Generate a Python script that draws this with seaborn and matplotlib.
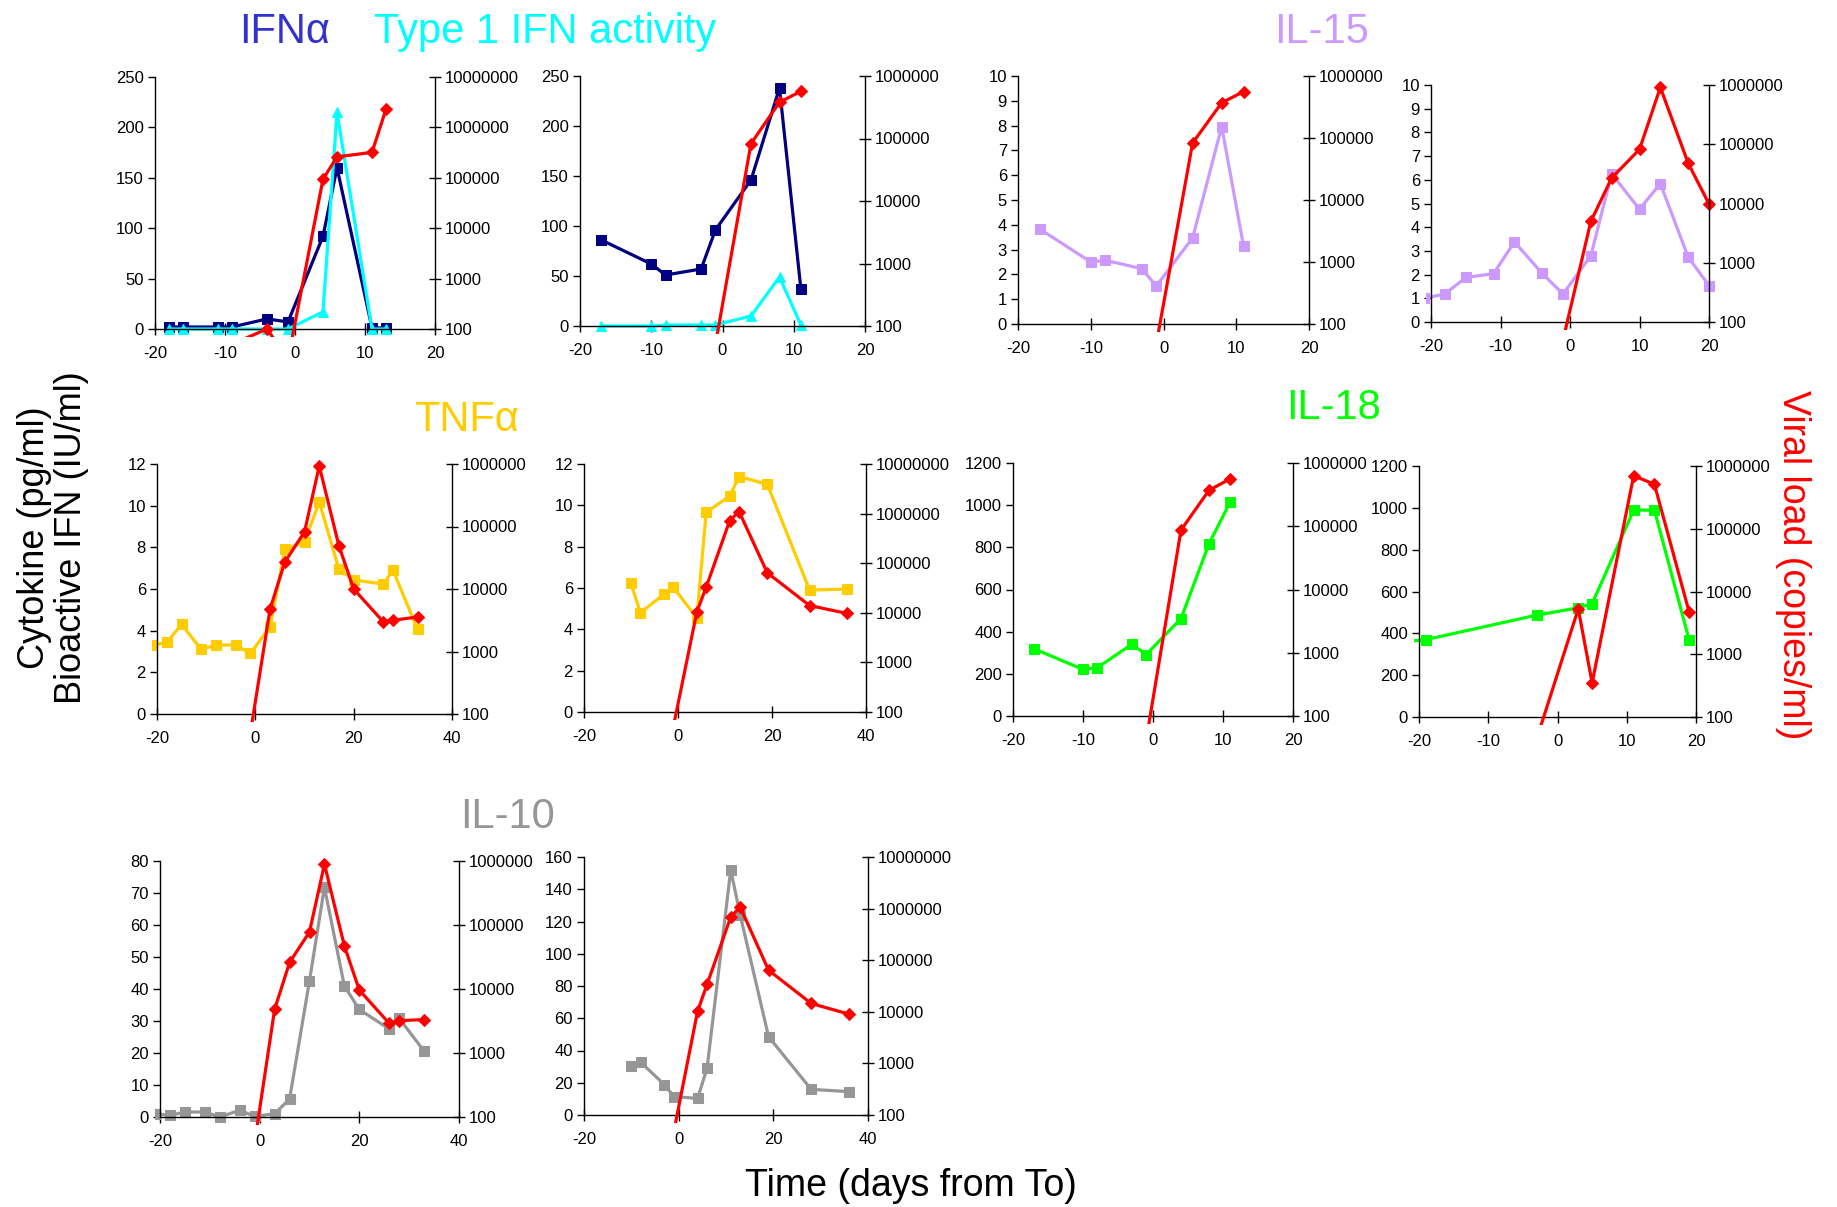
import matplotlib
matplotlib.use("Agg")
import matplotlib.pyplot as plt
from matplotlib.transforms import Bbox
import seaborn as sns

# ---------------- data ----------------
# Panel 1 : IFNa / Type 1 IFN activity, animal A
p1_days = [-18, -16, -11, -9, -4, -1, 4, 6, 11, 13]
p1_ifna = [2, 2, 2, 2, 10, 7, 92, 160, 1, 1]
p1_act = [0, 0, 0, 0, 0, 0, 17, 215, 0, 0]
p1_vl_days = [-9, -4, -1, 4, 6, 11, 13]
p1_vl = [50, 100, 25, 9.4e4, 2.6e5, 3.2e5, 2.3e6]

# Panel 2 : IFNa / Type 1 IFN activity, animal B
p2_days = [-17, -10, -8, -3, -1, 4, 8, 11]
p2_ifna = [86, 62, 51, 57, 96, 146, 238, 37]
p2_act = [0, 0, 1, 1, 1, 10, 49, 1]
p2_vl_days = [-1, 4, 8, 11]
p2_vl = [50, 8.3e4, 3.8e5, 5.7e5]

# Panel 3 : IL-15, animal B
p3_days = [-17, -10, -8, -3, -1, 4, 8, 11]
p3_il15 = [3.83, 2.5, 2.57, 2.23, 1.53, 3.47, 7.96, 3.15]
p3_vl_days = [-1, 4, 8, 11]
p3_vl = [47, 8.3e4, 3.7e5, 5.6e5]

# Panel 4 : IL-15, animal C
p4_days = [-21, -18, -15, -11, -8, -4, -1, 3, 6, 10, 13, 17, 20]
p4_il15 = [1.0, 1.18, 1.88, 2.04, 3.38, 2.05, 1.18, 2.8, 6.25, 4.76, 5.84, 2.74, 1.54]
p4_vl_days = [-1, 3, 6, 10, 13, 17, 20]
p4_vl = [50, 5000, 2.7e4, 8.2e4, 9.1e5, 4.8e4, 9800]

# Panel 5 : TNFa, animal C
p5_days = [-21, -18, -15, -11, -8, -4, -1, 3, 6, 10, 13, 17, 20, 26, 28, 33]
p5_tnf = [3.3, 3.44, 4.3, 3.1, 3.31, 3.31, 2.91, 4.19, 7.9, 8.26, 10.18, 6.94, 6.43, 6.24, 6.9, 4.06]
p5_vl_days = [-1, 3, 6, 10, 13, 17, 20, 26, 28, 33]
p5_vl = [50, 4800, 2.7e4, 8.2e4, 9.3e5, 4.9e4, 1.0e4, 3000, 3160, 3570]

# Panel 6 : TNFa, animal D
p6_days = [-10, -8, -3, -1, 4, 6, 11, 13, 19, 28, 36]
p6_tnf = [6.22, 4.8, 5.7, 6.03, 4.56, 9.66, 10.45, 11.39, 11.02, 5.9, 5.95]
p6_vl_days = [-1, 4, 6, 11, 13, 19, 28, 36]
p6_vl = [50, 1.03e4, 3.3e4, 7.2e5, 1.1e6, 6.4e4, 1.4e4, 9700]

# Panel 7 : IL-18, animal B
p7_days = [-17, -10, -8, -3, -1, 4, 8, 11]
p7_il18 = [319, 221, 228, 341, 291, 462, 817, 1013]
p7_vl_days = [-1, 4, 8, 11]
p7_vl = [40, 8.7e4, 3.7e5, 5.6e5]

# Panel 8 : IL-18, animal E
p8_days = [-22, -19, -3, 3, 5, 11, 14, 19]
p8_il18 = [360, 370, 487, 522, 542, 989, 989, 370]
p8_vl_days = [-3, 3, 5, 11, 14, 19]
p8_vl = [45, 5300, 350, 7.0e5, 5.1e5, 4750]

# Panel 9 : IL-10, animal C
p9_days = [-21, -18, -15, -11, -8, -4, -1, 3, 6, 10, 13, 17, 20, 26, 28, 33]
p9_il10 = [1.0, 0.5, 1.56, 1.56, 0, 2.1, 0.2, 1.0, 5.6, 42.6, 71.8, 40.9, 33.6, 27.5, 30.8, 20.6]
p9_vl_days = [-1, 3, 6, 10, 13, 17, 20, 26, 28, 33]
p9_vl = [40, 4800, 2.6e4, 7.8e4, 8.9e5, 4.7e4, 9600, 2900, 3200, 3330]

# Panel 10 : IL-10, animal D
p10_days = [-10, -8, -3, -1, 4, 6, 11, 13, 19, 28, 36]
p10_il10 = [30.6, 32.6, 18.8, 11.4, 10.3, 29, 152, 124, 48.5, 15.9, 14.5]
p10_vl_days = [-1, 4, 6, 11, 13, 19, 28, 36]
p10_vl = [49, 1.03e4, 3.4e4, 6.9e5, 1.07e6, 6.4e4, 1.45e4, 9000]

# ---------------- style ----------------
sns.set_style("white")
plt.rcParams["font.family"] = ["Liberation Sans", "DejaVu Sans"]
plt.rcParams["axes.unicode_minus"] = False

NAVY = "#000080"
CYAN = "#00FFFF"
LILAC = "#CC99FF"
GOLD = "#FFCC00"
GREEN = "#00FF00"
GRAY = "#969696"
RED = "#FF0000"
TICK_FS = 12

W, H = 1837, 1207
fig = plt.figure(figsize=(W / 100, H / 100), dpi=100)


def rect(l, t, r, b):
    return [l / W, 1 - b / H, (r - l) / W, (b - t) / H]


def series(ax, x, y, color, marker, clipbox, ms=7):
    n0 = len(ax.lines)
    sns.lineplot(x=x, y=y, ax=ax, color=color, marker=marker, markersize=ms,
                 markeredgecolor=color, linewidth=2.3, legend=False,
                 estimator=None, errorbar=None, sort=False)
    for ln in ax.lines[n0:]:
        ln.set_clip_on(True)
        ln.set_clip_box(clipbox)


def panel(box, ylim, ystep, xmax, xstep, vtop, cyto, vl_x, vl_y):
    l, t, r, b = box
    ax = fig.add_axes(rect(*box))
    ax2 = ax.twinx()
    ax2.set_yscale("log")
    # Excel-like plot area: a little larger than the axes frame
    clipbox = Bbox.from_extents(l - 5, H - b - 8, r + 5, H - t + 8)
    for (x, y, c, m) in cyto:
        series(ax, x, y, c, m, clipbox)
    series(ax2, vl_x, vl_y, RED, "D", clipbox, ms=6)

    ax.set_xlim(-20, xmax)
    ax.set_ylim(0, ylim)
    ax.set_xticks(list(range(-20, xmax + 1, xstep)))
    yt = [i * ystep for i in range(int(round(ylim / ystep)) + 1)]
    ax.set_yticks(yt)
    ax.set_yticklabels([f"{v:g}" for v in yt])
    ax2.set_ylim(100, vtop)
    decs = []
    v = 100
    while v <= vtop * 1.001:
        decs.append(v)
        v *= 10
    ax2.set_yticks(decs)
    ax2.set_yticklabels([str(int(d)) for d in decs])
    ax2.minorticks_off()

    for a in (ax, ax2):
        a.set_xlabel("")
        a.set_ylabel("")
        a.patch.set_visible(False)
        for s in a.spines.values():
            s.set_color("black")
            s.set_linewidth(1.0)
    ax.spines["top"].set_visible(False)
    ax.spines["right"].set_visible(False)
    for s in ("top", "left", "bottom"):
        ax2.spines[s].set_visible(False)

    ax.tick_params(axis="y", direction="out", length=5, width=1, labelsize=TICK_FS, pad=3,
                   left=True, colors="black")
    ax.tick_params(axis="x", direction="inout", length=8, width=1, labelsize=TICK_FS, pad=8,
                   bottom=True, colors="black")
    ax2.tick_params(axis="y", direction="inout", length=8, width=1, labelsize=TICK_FS, pad=3,
                    right=True, colors="black")
    ax.grid(False)
    ax2.grid(False)
    return ax, ax2


# Row 1
panel((155, 77, 435, 329), 250, 50, 20, 10, 1e7,
      [(p1_days, p1_ifna, NAVY, "s"), (p1_days, p1_act, CYAN, "^")],
      p1_vl_days, p1_vl)
panel((580, 76, 865, 326), 250, 50, 20, 10, 1e6,
      [(p2_days, p2_ifna, NAVY, "s"), (p2_days, p2_act, CYAN, "^")],
      p2_vl_days, p2_vl)
panel((1018, 76, 1309, 324), 10, 1, 20, 10, 1e6,
      [(p3_days, p3_il15, LILAC, "s")],
      p3_vl_days, p3_vl)
panel((1431, 85, 1709, 322), 10, 1, 20, 10, 1e6,
      [(p4_days, p4_il15, LILAC, "s")],
      p4_vl_days, p4_vl)

# Row 2
panel((157, 464, 452, 714), 12, 2, 40, 20, 1e6,
      [(p5_days, p5_tnf, GOLD, "s")],
      p5_vl_days, p5_vl)
panel((584, 464, 866, 712), 12, 2, 40, 20, 1e7,
      [(p6_days, p6_tnf, GOLD, "s")],
      p6_vl_days, p6_vl)
panel((1013, 463, 1293, 716), 1200, 200, 20, 10, 1e6,
      [(p7_days, p7_il18, GREEN, "s")],
      p7_vl_days, p7_vl)
panel((1419, 466, 1696, 717), 1200, 200, 20, 10, 1e6,
      [(p8_days, p8_il18, GREEN, "s")],
      p8_vl_days, p8_vl)

# Row 3
panel((160, 861, 459, 1117), 80, 10, 40, 20, 1e6,
      [(p9_days, p9_il10, GRAY, "s")],
      p9_vl_days, p9_vl)
panel((584, 857, 868, 1115), 160, 20, 40, 20, 1e7,
      [(p10_days, p10_il10, GRAY, "s")],
      p10_vl_days, p10_vl)

# ---------------- titles and axis labels ----------------
def ftext(x, y, s, **kw):
    fig.text(x / W, 1 - y / H, s, **kw)

ftext(285, 43, "IFNα", color="#3333CC", fontsize=30, ha="center", va="baseline")
ftext(545, 43, "Type 1 IFN activity", color=CYAN, fontsize=30, ha="center", va="baseline")
ftext(1322, 43, "IL-15", color=LILAC, fontsize=30, ha="center", va="baseline")
ftext(466, 431, "TNFα", color=GOLD, fontsize=30, ha="center", va="baseline")
ftext(1333, 419, "IL-18", color=GREEN, fontsize=30, ha="center", va="baseline")
ftext(507, 828, "IL-10", color=GRAY, fontsize=30, ha="center", va="baseline")

ftext(53, 538, "Cytokine (pg/ml)\nBioactive IFN (IU/ml)", color="black", fontsize=26,
      rotation=90, ha="center", va="center", multialignment="center", linespacing=1.05)
ftext(1793, 565, "Viral load (copies/ml)", color=RED, fontsize=27,
      rotation=270, ha="center", va="center")
ftext(911, 1186, "Time (days from To)", color="black", fontsize=27,
      ha="center", va="center")

fig.savefig("out.png", dpi=100)
